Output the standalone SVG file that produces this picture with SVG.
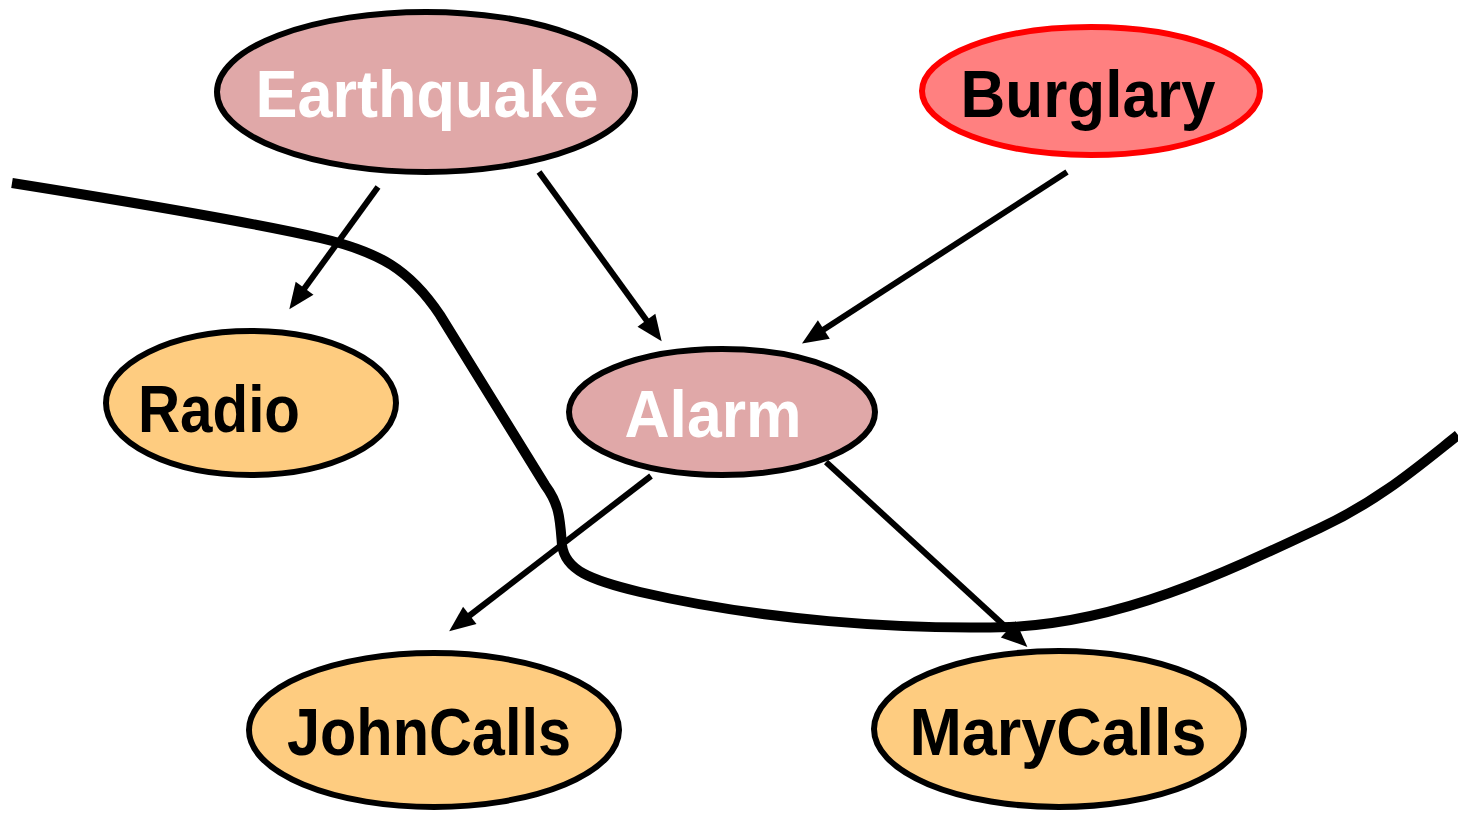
<svg xmlns="http://www.w3.org/2000/svg" width="1458" height="814" viewBox="0 0 1458 814">
<style>
.node{stroke:#000;stroke-width:6}
.pink{fill:#e0a8a8}
.orange{fill:#fecc80}
.lbl{font-family:"Liberation Sans",Arial,sans-serif;font-weight:bold;font-size:66px;text-anchor:middle}
.white{fill:#fff}
.black{fill:#000}
.edge{stroke:#000;stroke-width:6;fill:none;marker-end:url(#ah)}
</style>
<defs>
<marker id="ah" markerUnits="userSpaceOnUse" viewBox="0 0 26 22" markerWidth="26" markerHeight="22" refX="1" refY="11" orient="auto" overflow="visible">
<path d="M0,0 L26,11 L0,22 z" fill="#000"/>
</marker>
</defs>
<rect width="1458" height="814" fill="#fff"/>
<g id="connectors">
<path class="edge" d="M378,187 L304,289"/>
<path class="edge" d="M539,172 L647,321"/>
<path class="edge" d="M1067,172 L823,330"/>
<path class="edge" d="M651,476 L469,616"/>
<path class="edge" d="M826,462 L1009,630"/>
</g>
<g id="earthquake">
<ellipse class="node pink" cx="426" cy="92" rx="209" ry="80"/>
<text class="lbl white" x="427" y="117" textLength="343" lengthAdjust="spacingAndGlyphs">Earthquake</text>
</g>
<g id="burglary">
<ellipse cx="1091" cy="91" rx="169" ry="64" fill="#ff8080" stroke="#ff0000" stroke-width="6"/>
<text class="lbl black" x="1088" y="117" textLength="255" lengthAdjust="spacingAndGlyphs">Burglary</text>
</g>
<g id="radio">
<ellipse class="node orange" cx="251" cy="403" rx="145" ry="72"/>
<text class="lbl black" x="219" y="432" textLength="162" lengthAdjust="spacingAndGlyphs">Radio</text>
</g>
<g id="alarm">
<ellipse class="node pink" cx="722" cy="412" rx="153" ry="63"/>
<text class="lbl white" x="713" y="437" textLength="177" lengthAdjust="spacingAndGlyphs">Alarm</text>
</g>
<g id="johncalls">
<ellipse class="node orange" cx="434" cy="730" rx="185" ry="77"/>
<text class="lbl black" x="429" y="755" textLength="284" lengthAdjust="spacingAndGlyphs">JohnCalls</text>
</g>
<g id="marycalls">
<ellipse class="node orange" cx="1059" cy="729" rx="185" ry="78"/>
<text class="lbl black" x="1058" y="755" textLength="297" lengthAdjust="spacingAndGlyphs">MaryCalls</text>
</g>
<g id="cut">
<path d="M12,183 C150,205 250,222 320,238 C380,252 410,270 440,315 L545,485 C560,505 560,520 562,545 C565,570 590,580 640,592 C760,620 900,630 1010,627 C1120,622 1220,575 1320,528 C1380,500 1420,465 1458,435" fill="none" stroke="#000" stroke-width="10"/>
</g>
</svg>
